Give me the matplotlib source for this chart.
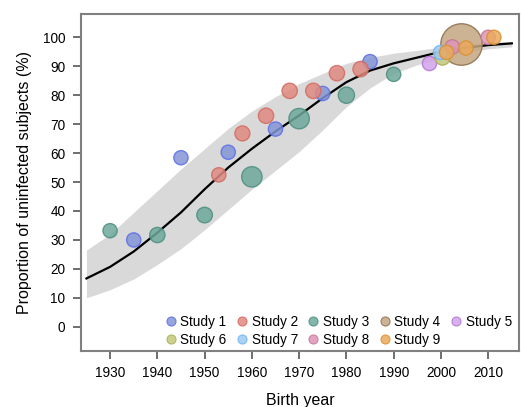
import matplotlib
matplotlib.use('Agg')
import matplotlib.pyplot as plt
from matplotlib.lines import Line2D

plt.rcParams['font.family'] = ['Liberation Sans', 'DejaVu Sans']

# Fitted curve and band, every 5 years
fit_years = [1925, 1930, 1935, 1940, 1945, 1950, 1955, 1960, 1965, 1970,
             1975, 1980, 1985, 1990, 1995, 2000, 2005, 2010, 2015]
fit_mid = [16.7, 20.7, 26.0, 32.5, 39.5, 47.5, 55.0, 61.5, 67.5, 73.0,
           79.0, 84.5, 88.5, 91.0, 93.0, 95.0, 96.3, 97.3, 97.9]
fit_low = [10.0, 12.8, 16.5, 21.5, 27.0, 33.5, 40.5, 47.5, 54.0, 60.5,
           68.0, 76.0, 82.5, 87.5, 90.5, 92.8, 94.8, 96.0, 96.7]
fit_high = [26.5, 32.0, 39.5, 47.0, 54.5, 61.5, 68.5, 74.5, 79.5, 84.0,
            87.5, 91.0, 93.0, 94.5, 95.5, 96.6, 97.5, 98.2, 98.6]

# Study points: birth year, proportion uninfected (%), relative weight
study_names = ['Study 1', 'Study 2', 'Study 3', 'Study 4', 'Study 5',
               'Study 6', 'Study 7', 'Study 8', 'Study 9']
study_years = [
    [1935, 1945, 1955, 1965, 1975, 1985],
    [1953, 1958, 1963, 1968, 1973, 1978, 1983],
    [1930, 1940, 1950, 1960, 1970, 1980, 1990],
    [2004.2],
    [1997.4],
    [2000.3],
    [1999.9],
    [2002.4, 2010.0],
    [2001.2, 2005.3, 2011.2],
]
study_props = [
    [30.0, 58.4, 60.3, 68.3, 80.6, 91.6],
    [52.5, 66.8, 72.9, 81.5, 81.5, 87.6, 89.0],
    [33.2, 31.7, 38.6, 51.8, 71.9, 80.0, 87.2],
    [97.7],
    [91.2],
    [93.1],
    [95.0],
    [96.7, 100.0],
    [94.8, 96.3, 100.0],
]
study_weights = [
    [1.0, 1.0, 1.0, 1.0, 1.0, 1.0],
    [1.0, 1.1, 1.15, 1.15, 1.15, 1.15, 1.15],
    [1.0, 1.15, 1.2, 2.05, 2.05, 1.3, 1.0],
    [8.5],
    [1.0],
    [1.15],
    [1.0],
    [1.0, 1.0],
    [1.0, 1.0, 1.0],
]

fills = ['#8496d6', '#e08a80', '#6ea89c', '#c4a680', '#d2a2e8',
         '#c4c87c', '#9ecbf2', '#dc96b8', '#eaaa5c']
edges = ['#5b6ee8', '#d36a60', '#4b8f80', '#8d6e4c', '#b274da',
         '#a9b054', '#72b2f2', '#c97499', '#da9032']

fig = plt.figure(figsize=(5.21, 4.07), dpi=100)
ax = fig.add_axes([0.155, 0.138, 0.841, 0.828])

ax.fill_between(fit_years, fit_low, fit_high, color='#d9d9d9', lw=0, zorder=1)
ax.plot(fit_years, fit_mid, color='black', lw=1.6, zorder=2)

for i in range(len(study_names)):
    sizes = [w * 105 for w in study_weights[i]]
    ax.scatter(study_years[i], study_props[i], s=sizes, c=fills[i],
               edgecolors=edges[i], linewidths=1.0, alpha=0.85, zorder=3 + i)

handles = [Line2D([], [], marker='o', ls='', markersize=6.5,
                  markerfacecolor=fills[i], markeredgecolor=edges[i],
                  markeredgewidth=0.8, alpha=0.85)
           for i in range(len(study_names))]
# legend fills column by column, so reorder to read row by row
order = [0, 5, 1, 6, 2, 7, 3, 8, 4]
ax.legend([handles[k] for k in order], [study_names[k] for k in order],
          ncol=5, loc='lower right', frameon=False,
          fontsize=9.8, handlelength=0.8, handletextpad=0.3,
          columnspacing=0.75, labelspacing=0.3, borderaxespad=0.1,
          bbox_to_anchor=(1.0, -0.008))

ax.set_xlim(1923.8, 2016.5)
ax.set_ylim(-8.3, 108.1)
ax.set_xticks(range(1930, 2011, 10))
ax.set_yticks(range(0, 101, 10))
ax.tick_params(colors='#555555', labelcolor='black', labelsize=9.8,
               length=6, width=1.2, pad=5)
for sp in ax.spines.values():
    sp.set_color('#808080')
    sp.set_linewidth(1.5)

ax.set_xlabel('Birth year', fontsize=11.5, labelpad=9)
ax.set_ylabel('Proportion of uninfected subjects (%)', fontsize=11.5, labelpad=8)

fig.savefig('out.png', dpi=100)
